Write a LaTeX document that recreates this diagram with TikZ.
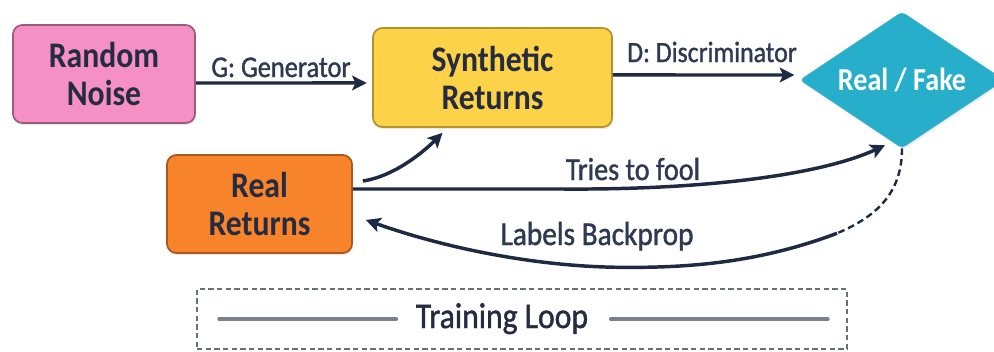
\documentclass[tikz,border=0pt]{standalone}
\usepackage{fontspec}
\setmainfont[FakeStretch=0.88]{Carlito}
\newfontfamily\labfont[FakeStretch=0.88, FakeBold=1.2]{Carlito}
\usetikzlibrary{arrows.meta,shapes.geometric,shadows,calc}
\definecolor{navy}{HTML}{1E2A44}
\definecolor{txt}{HTML}{252B40}
\definecolor{lbl}{HTML}{2E3A52}
\definecolor{pinkf}{HTML}{F590C4}
\definecolor{pinkd}{HTML}{9E5C7C}
\definecolor{yelf}{HTML}{FCD248}
\definecolor{yeld}{HTML}{B3922C}
\definecolor{oraf}{HTML}{F7842A}
\definecolor{orad}{HTML}{A9581E}
\definecolor{tealf}{HTML}{27AECB}
\definecolor{loopd}{HTML}{6A6E76}
\definecolor{loopl}{HTML}{7B808A}
\begin{document}
\begin{tikzpicture}[x=0.75pt,y=-0.75pt,
  box/.style={draw, line width=1.3pt, rounded corners=7pt, align=center,
    font=\fontsize{27}{28.5}\selectfont\bfseries, text=txt, inner sep=0pt,
    drop shadow={opacity=0.18, shadow xshift=0.8pt, shadow yshift=-1.5pt}},
  arr/.style={draw=navy, line width=2.6pt, -{Stealth[length=11pt,width=11pt,inset=2.5pt]}},
  dashline/.style={draw=navy, line width=1.8pt, dash pattern=on 5pt off 3pt},
  lab/.style={anchor=base, text=lbl, inner sep=0pt},
  grayline/.style={draw=loopl, line width=2.8pt, line cap=round}
]
\useasboundingbox (0,0) rectangle (994,351);
\fill[white] (0,0) rectangle (994,351);

% boxes
\node[box, fill=pinkf, draw=pinkd, minimum width=182*0.75pt, minimum height=98*0.75pt] (noise) at (104,74) {Random\\Noise};
\node[box, fill=yelf, draw=yeld, minimum width=239*0.75pt, minimum height=99*0.75pt] (synth) at (492.5,77.5) {Synthetic\\Returns};
\node[box, fill=oraf, draw=orad, minimum width=185*0.75pt, minimum height=98*0.75pt] (real) at (259.5,204) {Real\\Returns};
\node[diamond, aspect=1.5, fill=tealf, draw=tealf, rounded corners=3pt, inner sep=0pt,
  minimum width=204*0.75pt, minimum height=136*0.75pt, text=white,
  font=\fontsize{24}{24}\selectfont\bfseries,
  drop shadow={opacity=0.15, shadow xshift=0.8pt, shadow yshift=-1.5pt}] (rf) at (902,80) {Real / Fake};

% G: Generator
\draw[arr, shorten >=4pt] ([yshift=-6.75pt]noise.east) -- ([yshift=-4.1pt]synth.west);
\node[lab, font=\labfont\fontsize{22.5}{24}\selectfont] (lg) at (281,77) {G: Generator};

% D: Discriminator
\draw[arr, shorten >=4pt] ([yshift=1.9pt]synth.east) -- ([yshift=3.75pt]rf.west);
\node[lab, font=\labfont\fontsize{22}{24}\selectfont] (ld) at (712,62) {D: Discriminator};

% Real -> Synthetic
\coordinate (rs1) at ($(real.east)+(10,-23)$);
\coordinate (se1) at ($(synth.south)+(-50,5)$);
\draw[arr] (rs1) .. controls ($(rs1)+(33,-5)$) and ($(se1)+(-17,17)$) .. (se1);

% Tries to fool
\coordinate (rs2) at ($(real.east)+(0,-15)$);
\coordinate (rf1) at ($(rf.south)+(-17,-3)$);
\draw[arr] (rs2) -- ($(rs2)+(210,0)$) .. controls ($(rs2)+(350,1)$) and ($(rf1)+(-65,30)$) .. (rf1);
\node[lab, font=\labfont\fontsize{24}{24}\selectfont] (lt) at (633,180) {Tries to fool};

% Labels Backprop
\coordinate (bp) at ($(rf.south)+(-65,85)$);
\coordinate (rr) at ($(real.east)+(13,16)$);
\draw[dashline] (rf.south) .. controls ($(rf.south)+(0,42)$) and ($(bp)+(43,-18)$) .. (bp);
\draw[arr] (bp) .. controls ($(bp)+(-77,29)$) and ($(bp)+(-147,35)$) .. ($(bp)+(-220,34)$)
  .. controls ($(bp)+(-297,33)$) and ($(rr)+(85,30)$) .. (rr);
\node[lab, font=\labfont\fontsize{25}{24}\selectfont] (lb) at (597,245) {Labels Backprop};

% Training loop
\node[draw=loopd, line width=1.2pt, dash pattern=on 4pt off 2.5pt, minimum width=650*0.75pt,
  minimum height=60*0.75pt, inner sep=0pt] (loop) at (522,319) {};
\node[lab, text=txt, font=\labfont\fontsize{27}{28}\selectfont] (looptext) at (502,328) {Training Loop};
\draw[grayline] ($(loop.west)+(23,0)$) -- ($(loop.west)+(200,0)$);
\draw[grayline] ($(loop.east)+(-237,0)$) -- ($(loop.east)+(-20,0)$);
\end{tikzpicture}
\end{document}
